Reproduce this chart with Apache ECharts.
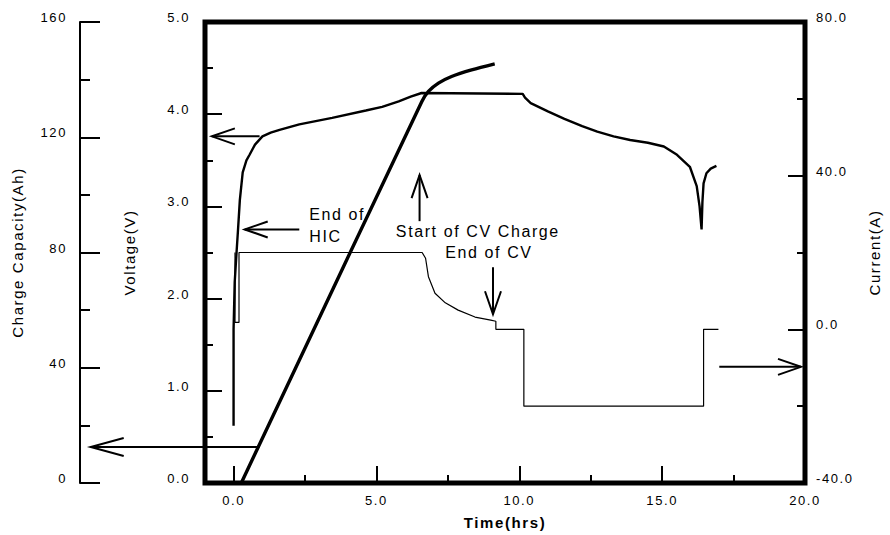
<!DOCTYPE html>
<html>
<head>
<meta charset="utf-8">
<script src="https://cdn.jsdelivr.net/npm/echarts@6/dist/echarts.min.js"></script>
<style>
html,body{margin:0;padding:0;background:#fff;}
#chart{width:890px;height:535px;}
#chart svg text{letter-spacing:1.6px;}
</style>
</head>
<body>
<div id="chart"></div>
<script>
// ---- data (time in hrs) ----
var voltage = [[0,0.62],[0,1.67],[0.04,2.18],[0.11,2.53],[0.15,2.72],[0.22,3.07],[0.32,3.37],[0.45,3.5],[0.56,3.56],[0.75,3.67],[1.01,3.76],[1.3,3.8],[1.61,3.83],[2.3,3.89],[3.45,3.96],[4.63,4.04],[5.2,4.08],[5.78,4.14],[6.2,4.19],[6.58,4.23],[10.12,4.22],[10.2,4.18],[10.4,4.12],[11.0,4.03],[11.58,3.95],[12.2,3.87],[12.73,3.81],[13.3,3.76],[13.88,3.72],[14.5,3.69],[15.06,3.65],[15.52,3.56],[15.97,3.43],[16.21,3.22],[16.31,3.0],[16.38,2.75],[16.41,3.05],[16.45,3.25],[16.55,3.36],[16.7,3.41],[16.9,3.44]];
var current = [[0.05,20],[0.05,1.8],[0.19,1.8],[0.19,20],[6.6,20],[6.72,18.5],[6.82,13.7],[7.05,9.4],[7.41,6.9],[7.86,5.0],[8.45,3.2],[9.0,2.4],[9.18,2.1],[9.18,0],[10.16,0],[10.16,-20],[16.45,-20],[16.45,0],[16.97,0]];
var capacity = [[0.27,0],[6.59,132.4],[6.82,135.9],[7.17,138.8],[7.63,141.1],[8.33,143.4],[9.14,145.5]];
var xMajor = [0,5,10,15,20];
var xMinor = [2.5,7.5,12.5,17.5];
// annotations in (time, voltage) space
var arrows = [[0.91,3.76,-0.76,3.76],[2.3,2.75,0.39,2.75],[6.51,2.84,6.51,3.34],[9.08,2.34,9.08,1.83],[0.91,0.39,-5.0,0.39],[17.0,1.26,19.86,1.26]];
var notes = [[2.65,2.91,'End of'],[2.65,2.67,'HIC'],[5.68,2.73,'Start of CV Charge'],[7.41,2.5,'End of CV']];

var FONT = '"Liberation Sans", Arial, Helvetica, sans-serif';
var chart = echarts.init(document.getElementById('chart'), null, {renderer:'svg'});
function fmt1(v){return v.toFixed(1);}
var tickLabel = {fontFamily:FONT, fontSize:13, color:'#000'};
var yLab = {verticalAlign:'bottom', lineHeight:9};
chart.setOption({
  animation:false,
  backgroundColor:'#fff',
  grid:{left:205,right:81,top:22,bottom:51,show:true,borderColor:'#000',borderWidth:5,backgroundColor:'transparent'},
  xAxis:[{
    type:'value',min:-1,max:20,position:'bottom',
    axisLine:{show:false,onZero:false},splitLine:{show:false},
    axisTick:{show:true,inside:true,length:17,customValues:xMajor,lineStyle:{color:'#000',width:2}},
    axisLabel:Object.assign({customValues:xMajor,formatter:fmt1,margin:11},tickLabel),
    name:'Time(hrs)',nameLocation:'middle',nameGap:32,
    nameTextStyle:{fontFamily:FONT,fontSize:15,fontWeight:'bold',color:'#000'}
  },{
    type:'value',min:-1,max:20,position:'bottom',
    axisLine:{show:false,onZero:false},splitLine:{show:false},axisLabel:{show:false},
    axisTick:{show:true,inside:true,length:8,customValues:xMinor,lineStyle:{color:'#000',width:2}}
  }],
  yAxis:[{
    type:'value',min:0,max:5,interval:1,position:'left',
    axisLine:{show:false,onZero:false},splitLine:{show:false},
    axisTick:{show:true,inside:true,length:17,lineStyle:{color:'#000',width:2}},
    minorTick:{show:true,splitNumber:2,length:8,lineStyle:{color:'#000',width:2}},
    axisLabel:Object.assign({formatter:fmt1,margin:15},tickLabel,yLab),
    name:'Voltage(V)',nameLocation:'middle',nameGap:68,
    nameTextStyle:{fontFamily:FONT,fontSize:15,color:'#000'}
  },{
    type:'value',min:-40,max:80,interval:40,position:'right',
    axisLine:{show:false,onZero:false},splitLine:{show:false},
    axisTick:{show:true,inside:true,length:17,lineStyle:{color:'#000',width:2}},
    minorTick:{show:true,splitNumber:2,length:8,lineStyle:{color:'#000',width:2}},
    axisLabel:Object.assign({formatter:fmt1,margin:11},tickLabel,yLab),
    name:'Current(A)',nameLocation:'middle',nameGap:62,nameRotate:90,
    nameTextStyle:{fontFamily:FONT,fontSize:15,color:'#000'}
  },{
    type:'value',min:0,max:160,interval:40,position:'left',offset:125,
    axisLine:{show:true,onZero:false,lineStyle:{color:'#000',width:2}},splitLine:{show:false},
    axisTick:{show:true,inside:true,length:20,lineStyle:{color:'#000',width:2}},
    minorTick:{show:true,splitNumber:2,length:10,lineStyle:{color:'#000',width:2}},
    axisLabel:Object.assign({margin:13},tickLabel,yLab),
    name:'Charge Capacity(Ah)',nameLocation:'middle',nameGap:55,
    nameTextStyle:{fontFamily:FONT,fontSize:15,color:'#000'}
  }],
  series:[{
    name:'Voltage',type:'line',xAxisIndex:0,yAxisIndex:0,data:voltage,
    showSymbol:false,symbol:'none',lineStyle:{color:'#000',width:2.4},z:3
  },{
    name:'Current',type:'line',xAxisIndex:0,yAxisIndex:1,data:current,
    showSymbol:false,symbol:'none',lineStyle:{color:'#000',width:1.2},z:2
  },{
    name:'Charge Capacity',type:'line',xAxisIndex:0,yAxisIndex:2,data:capacity,
    showSymbol:false,symbol:'none',smooth:0.3,lineStyle:{color:'#000',width:3.4},z:4
  },{
    type:'custom',xAxisIndex:0,yAxisIndex:0,clip:false,silent:true,z:5,
    data:arrows,
    renderItem:function(params,api){
      var a=api.coord([api.value(0),api.value(1)]);
      var b=api.coord([api.value(2),api.value(3)]);
      var dx=b[0]-a[0],dy=b[1]-a[1],len=Math.sqrt(dx*dx+dy*dy);
      var ux=dx/len,uy=dy/len,nx=-uy,ny=ux;
      var L=params.dataIndex===4?33:23, W=params.dataIndex===4?9:8;
      var bx=b[0]-ux*L,by=b[1]-uy*L;
      return {type:'group',children:[
        {type:'line',shape:{x1:a[0],y1:a[1],x2:b[0],y2:b[1]},style:{stroke:'#000',lineWidth:2}},
        {type:'polyline',shape:{points:[[bx+nx*W,by+ny*W],[b[0],b[1]],[bx-nx*W,by-ny*W]]},style:{stroke:'#000',lineWidth:2,fill:null}}
      ]};
    }
  },{
    type:'custom',xAxisIndex:0,yAxisIndex:0,clip:false,silent:true,z:5,
    data:notes.map(function(n){return [n[0],n[1]];}),
    renderItem:function(params,api){
      var p=api.coord([api.value(0),api.value(1)]);
      return {type:'text',x:p[0],y:p[1],style:{text:notes[params.dataIndex][2],fill:'#000',fontFamily:FONT,fontSize:16,align:'left',verticalAlign:'middle'}};
    }
  }]
});
</script>
</body>
</html>
